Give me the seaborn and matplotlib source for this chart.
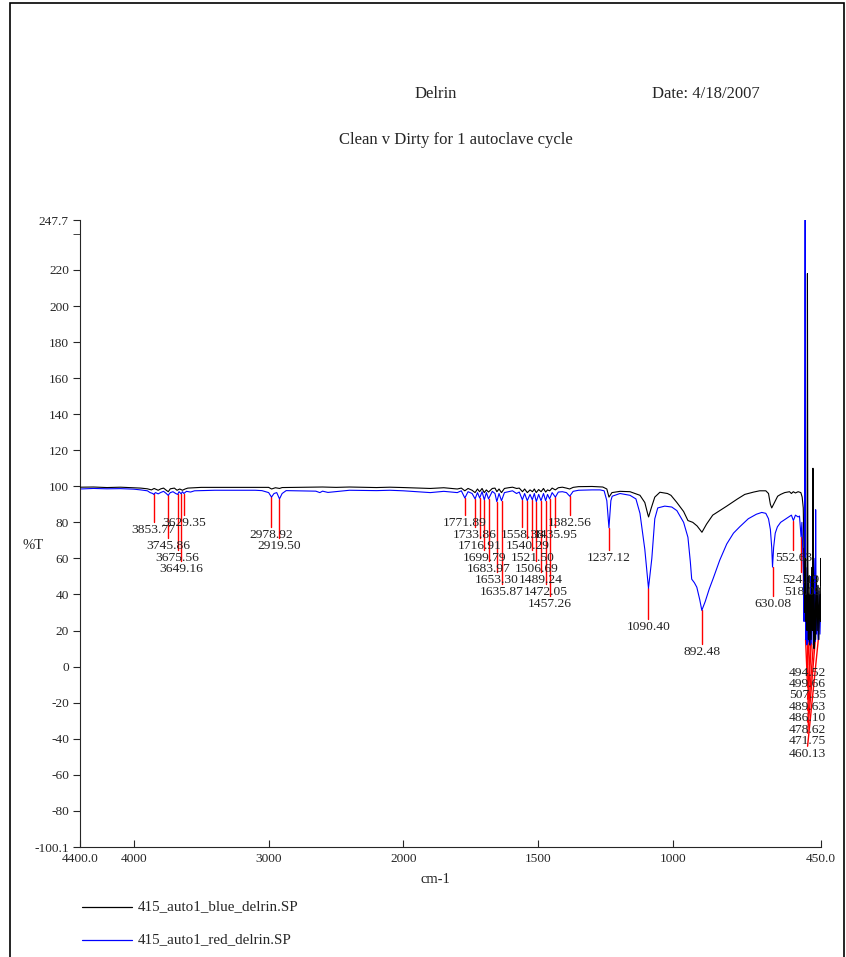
import matplotlib
matplotlib.use("Agg")
import matplotlib.pyplot as plt
import seaborn as sns
import numpy as np
import pandas as pd
from matplotlib.lines import Line2D
from matplotlib.patches import Rectangle

# ---- data (wavenumber cm-1, %T) ----
black_wn = [4400, 4300, 4200, 4100, 4000, 3950, 3900, 3870, 3850, 3820, 3800, 3780, 3760,
            3745, 3730, 3700, 3680, 3660, 3640, 3620, 3600, 3550, 3500, 3200, 3000, 2978,
            2950, 2919, 2900, 2700, 2600, 2500, 2400, 2200, 2100, 2000, 1900, 1850, 1800,
            1785, 1772, 1760, 1745, 1734, 1725, 1717, 1708, 1700, 1692, 1684, 1670, 1660,
            1653, 1645, 1636, 1625, 1610, 1595, 1580, 1570, 1558, 1550, 1540, 1530, 1521,
            1514, 1507, 1498, 1489, 1480, 1472, 1465, 1457, 1448, 1436, 1425, 1410, 1395,
            1383, 1370, 1350, 1300, 1260, 1245, 1237, 1226, 1196, 1159, 1122, 1104, 1093,
            1090, 1080, 1067, 1048, 1020, 1007, 985, 960, 944, 926, 910, 892, 875, 852,
            826, 800, 780, 760, 733, 700, 678, 655, 645, 638, 633, 628, 620, 611, 600, 585,
            567, 560, 553, 545, 535, 525, 520, 516, 514, 512, 510, 508, 506, 504, 502,
            500.5, 499, 497, 495, 492, 490, 487, 485, 482, 480, 478, 476, 473, 470, 467,
            464, 461, 458, 455, 452, 451, 450]
black_t = [99.5, 99.6, 99.3, 99.5, 99.2, 99.0, 98.6, 98.0, 98.8, 97.8, 98.6, 99.0, 97.8,
           97.0, 98.6, 99.0, 97.8, 98.5, 97.8, 98.5, 99.0, 99.2, 99.4, 99.4, 99.4, 98.5,
           99.2, 98.8, 99.3, 99.5, 99.6, 99.4, 99.6, 99.3, 99.5, 99.3, 98.8, 99.2, 98.5,
           99.0, 97.5, 98.8, 97.8, 96.5, 98.5, 97.0, 98.8, 96.5, 98.0, 96.8, 98.8, 99.0,
           97.0, 98.5, 96.5, 98.8, 99.2, 99.5, 98.8, 99.0, 97.0, 98.5, 96.5, 98.0, 97.0,
           98.5, 96.5, 98.2, 97.0, 98.8, 96.8, 98.0, 97.5, 99.0, 98.0, 99.2, 99.5, 99.0,
           98.5, 99.4, 99.8, 99.9, 99.6, 98.5, 94.0, 96.5, 97.2, 97.0, 95.0, 91.0, 84.5,
           83.0, 88.0, 94.0, 96.7, 96.0, 95.0, 91.0, 86.0, 81.0, 80.0, 78.0, 74.5, 79.0, 84.0,
           86.5, 89.0, 91.0, 93.0, 95.5, 96.8, 97.5, 97.5, 96.0, 90.0, 88.0, 89.5, 92.0, 94.5,
           95.5, 96.5, 97.0, 96.0, 97.0, 96.3, 97.0, 96.5, 94.0, 88.0, 70.0, 45.0, 30.0, 60.0,
           25.0, 40.0, 20.0, 218.0, 60.0, 15.0, 50.0, 12.0, 40.0, 15.0, 55.0, 20.0, 110.0,
           30.0, 10.0, 40.0, 15.0, 50.0, 20.0, 45.0, 15.0, 40.0, 25.0, 60.0, 45.0]

blue_wn = [4400, 4300, 4200, 4100, 4000, 3950, 3900, 3880, 3860, 3853.77, 3840, 3820, 3800,
           3780, 3760, 3745.86, 3730, 3710, 3690, 3675.56, 3665, 3649.16, 3640, 3629.35,
           3610, 3580, 3550, 3500, 3400, 3100, 3050, 3000, 2978.92, 2960, 2940, 2919.50,
           2900, 2870, 2800, 2650, 2620, 2600, 2560, 2400, 2200, 2100, 2000, 1950, 1900,
           1850, 1800, 1785, 1771.89, 1760, 1745, 1733.86, 1725, 1716.91, 1708, 1699.79,
           1692, 1683.97, 1670, 1660, 1653.30, 1645, 1635.87, 1625, 1610, 1595, 1580, 1570,
           1558.38, 1550, 1540.29, 1530, 1521.50, 1514, 1506.69, 1498, 1489.24, 1480,
           1472.05, 1465, 1457.26, 1448, 1435.95, 1425, 1410, 1395, 1382.56, 1370, 1350,
           1300, 1270, 1255, 1245, 1237.12, 1230, 1225, 1196, 1159, 1137, 1122, 1104,
           1090.40, 1078, 1067, 1056, 1030, 1004, 985, 960, 944, 935, 930, 920, 911, 900,
           892.48, 880, 865, 850, 826, 800, 775, 752, 720, 690, 670, 655, 645, 638, 633,
           630.08, 626, 620, 612, 600, 585, 570, 560, 552.63, 545, 535, 530, 524.19, 521,
           518.09, 515, 513, 511.5, 510, 509, 508, 507.35, 505, 503, 501, 499.66, 497,
           494.52, 492, 489.63, 488, 486.10, 483, 480, 478.62, 475, 472.5, 471.75, 470,
           468, 465, 462, 460.13, 457, 454, 451, 450]
blue_t = [98.5, 98.8, 98.6, 98.7, 98.4, 98.0, 97.5, 96.5, 96.0, 95.5, 96.5, 95.8, 96.6,
          97.2, 96.0, 95.0, 96.5, 97.0, 96.0, 95.5, 97.0, 95.8, 97.0, 96.0,
          97.2, 96.8, 97.5, 97.6, 97.8, 97.8, 97.6, 96.5, 94.0, 96.0, 96.5, 93.0,
          96.0, 97.6, 97.5, 97.3, 96.5, 97.3, 96.6, 97.8, 97.6, 97.8, 97.5, 97.0, 96.5,
          97.2, 96.5, 97.5, 93.5, 97.0, 96.0, 93.0, 96.5, 93.5, 97.0, 92.5,
          96.5, 93.0, 97.2, 96.0, 91.5, 96.0, 92.0, 96.5, 97.0, 97.5, 96.0, 96.8,
          92.5, 96.0, 92.0, 95.5, 92.5, 96.0, 91.5, 95.5, 92.0, 96.0,
          92.0, 95.5, 93.0, 96.5, 94.0, 96.8, 97.0, 96.5, 94.5, 97.2, 97.8,
          98.0, 98.0, 97.5, 92.0, 77.0, 92.0, 94.5, 96.0, 95.0, 93.0, 85.0, 65.0,
          43.5, 60.0, 82.0, 88.0, 89.0, 88.5, 86.5, 80.0, 71.7, 58.0, 48.5, 46.5, 44.0, 37.0,
          31.2, 36.0, 43.0, 49.0, 59.0, 68.0, 74.0, 77.5, 82.0, 84.5, 85.5, 85.0, 82.0, 76.0, 66.0,
          55.2, 66.0, 74.0, 77.5, 80.0, 81.5, 83.0, 84.0, 81.0, 84.0, 83.0, 83.5, 72.0, 80.0,
          66.0, 50.0, 25.0, 60.0, 200.0, 247.7, 180.0, 15.0, 40.0, 12.0, 55.0, 13.0, 45.0,
          14.0, 40.0, 12.0, 50.0, 13.0, 45.0, 20.0, 12.0, 40.0, 60.0, 14.0, 87.0,
          18.0, 45.0, 20.0, 15.0, 42.0, 18.0, 35.0, 28.0]

# peak picks on the blue trace
peak_wn = [3853.77, 3745.86, 3675.56, 3649.16, 3629.35, 2978.92, 2919.50, 1771.89,
           1733.86, 1716.91, 1699.79, 1683.97, 1653.30, 1635.87, 1558.38, 1540.29,
           1521.50, 1506.69, 1489.24, 1472.05, 1457.26, 1435.95, 1382.56, 1237.12,
           1090.40, 892.48, 630.08, 552.63, 524.19, 518.09, 494.52, 499.66, 507.35,
           489.63, 486.10, 478.62, 471.75, 460.13]
peak_t = [95.5, 95.0, 95.5, 95.8, 96.0, 94.0, 93.0, 93.5, 93.0, 93.5, 92.5, 93.0, 91.5,
          92.0, 92.5, 92.0, 92.5, 91.5, 92.0, 92.0, 93.0, 94.0, 94.5, 77.0, 43.5, 31.2,
          55.2, 81.0, 72.0, 66.0, 14.0, 13.0, 15.0, 12.0, 13.0, 12.0, 14.0, 15.0]
label_y = [75.6, 66.7, 60.1, 54.0, 79.5, 73.1, 66.7, 79.5, 72.8, 66.7, 60.1, 54.0, 47.9,
           41.2, 72.8, 66.7, 60.1, 54.0, 47.9, 41.2, 34.5, 72.8, 79.5, 60.1, 21.8, 7.9,
           34.5, 60.1, 47.9, 41.2, -3.7, -9.8, -15.9, -22.6, -28.7, -35.3, -41.4, -48.7]

x_ticks = [4400, 4000, 3000, 2000, 1500, 1000, 450]
x_ticklabels = ["4400.0", "4000", "3000", "2000", "1500", "1000", "450.0"]
y_ticks = [-100.1, -80, -60, -40, -20, 0, 20, 40, 60, 80, 100, 120, 140, 160, 180, 200, 220, 247.7]
y_ticklabels = ["-100.1", "-80", "-60", "-40", "-20", "0", "20", "40", "60", "80", "100",
                "120", "140", "160", "180", "200", "220", "247.7"]
series_names = ["415_auto1_blue_delrin.SP", "415_auto1_red_delrin.SP"]


# x axis is compressed by 2 above 2000 cm-1
def fwd(w):
    w = np.asarray(w, dtype=float)
    return np.where(w > 2000, 2000 + (w - 2000) / 2.0, w)


def inv(u):
    u = np.asarray(u, dtype=float)
    return np.where(u > 2000, 2000 + (u - 2000) * 2.0, u)


sns.set_style("ticks")
plt.rcParams["font.family"] = ["Liberation Serif", "DejaVu Serif"]

fig = plt.figure(figsize=(8.46, 9.57), dpi=100)
ax = fig.add_axes([0.0946, 0.1149, 0.8759, 0.6552])

df_black = pd.DataFrame({"wn": black_wn, "t": black_t})
df_blue = pd.DataFrame({"wn": blue_wn, "t": blue_t})
sns.lineplot(data=df_black, x="wn", y="t", ax=ax, color="black", lw=0.8,
             sort=False, estimator=None, zorder=3)
sns.lineplot(data=df_blue, x="wn", y="t", ax=ax, color="#0000ff", lw=0.8,
             sort=False, estimator=None, zorder=2)

ax.set_xscale("function", functions=(fwd, inv))
ax.set_xlim(4400, 450)
ax.set_ylim(-100.1, 247.7)

# peak markers
for w, t, ly in zip(peak_wn, peak_t, label_y):
    lx = 500 if w < 510 else w
    ax.plot([w, lx], [t, ly + 4.5], color="red", lw=1.0, zorder=1)
    ax.text(lx, ly, f"{w:.2f}", ha="center", va="center", fontsize=9.7, color="#222222")

ax.set_xticks(x_ticks)
ax.set_xticklabels(x_ticklabels)
ax.set_yticks(y_ticks)
ax.set_yticklabels(y_ticklabels)
ax.set_yticks([240], minor=True)
ax.xaxis.set_minor_locator(matplotlib.ticker.NullLocator())
ax.tick_params(axis="x", direction="in", length=5, labelsize=9.6, pad=4)
ax.tick_params(axis="y", direction="out", length=5, labelsize=9.6, pad=3)
ax.tick_params(axis="y", which="minor", direction="out", length=5)
ax.set_xlabel("")
ax.set_ylabel("")
sns.despine(ax=ax)
for s in ["left", "bottom"]:
    ax.spines[s].set_linewidth(0.8)

# titles and axis names
fig.text(0.515, 0.9018, "Delrin", ha="center", va="center", fontsize=12)
fig.text(0.771, 0.9018, "Date: 4/18/2007", ha="left", va="center", fontsize=12)
fig.text(0.539, 0.8537, "Clean v Dirty for 1 autoclave cycle", ha="center", va="center", fontsize=12)
fig.text(0.039, 0.4305, "%T", ha="center", va="center", fontsize=10.5)
fig.text(0.515, 0.0805, "cm-1", ha="center", va="center", fontsize=10.5)

# legend below the plot
for name, col, yy in zip(series_names, ["black", "#0000ff"], [0.0522, 0.0178]):
    fig.add_artist(Line2D([0.097, 0.156], [yy, yy], color=col, lw=0.9))
    fig.text(0.163, yy, name, ha="left", va="center", fontsize=10.8)

# outer frame
fig.add_artist(Rectangle((0.012, -0.01), 0.986, 1.007, fill=False, lw=1.2,
                         edgecolor="black", transform=fig.transFigure))

fig.savefig("out.png", dpi=100)
